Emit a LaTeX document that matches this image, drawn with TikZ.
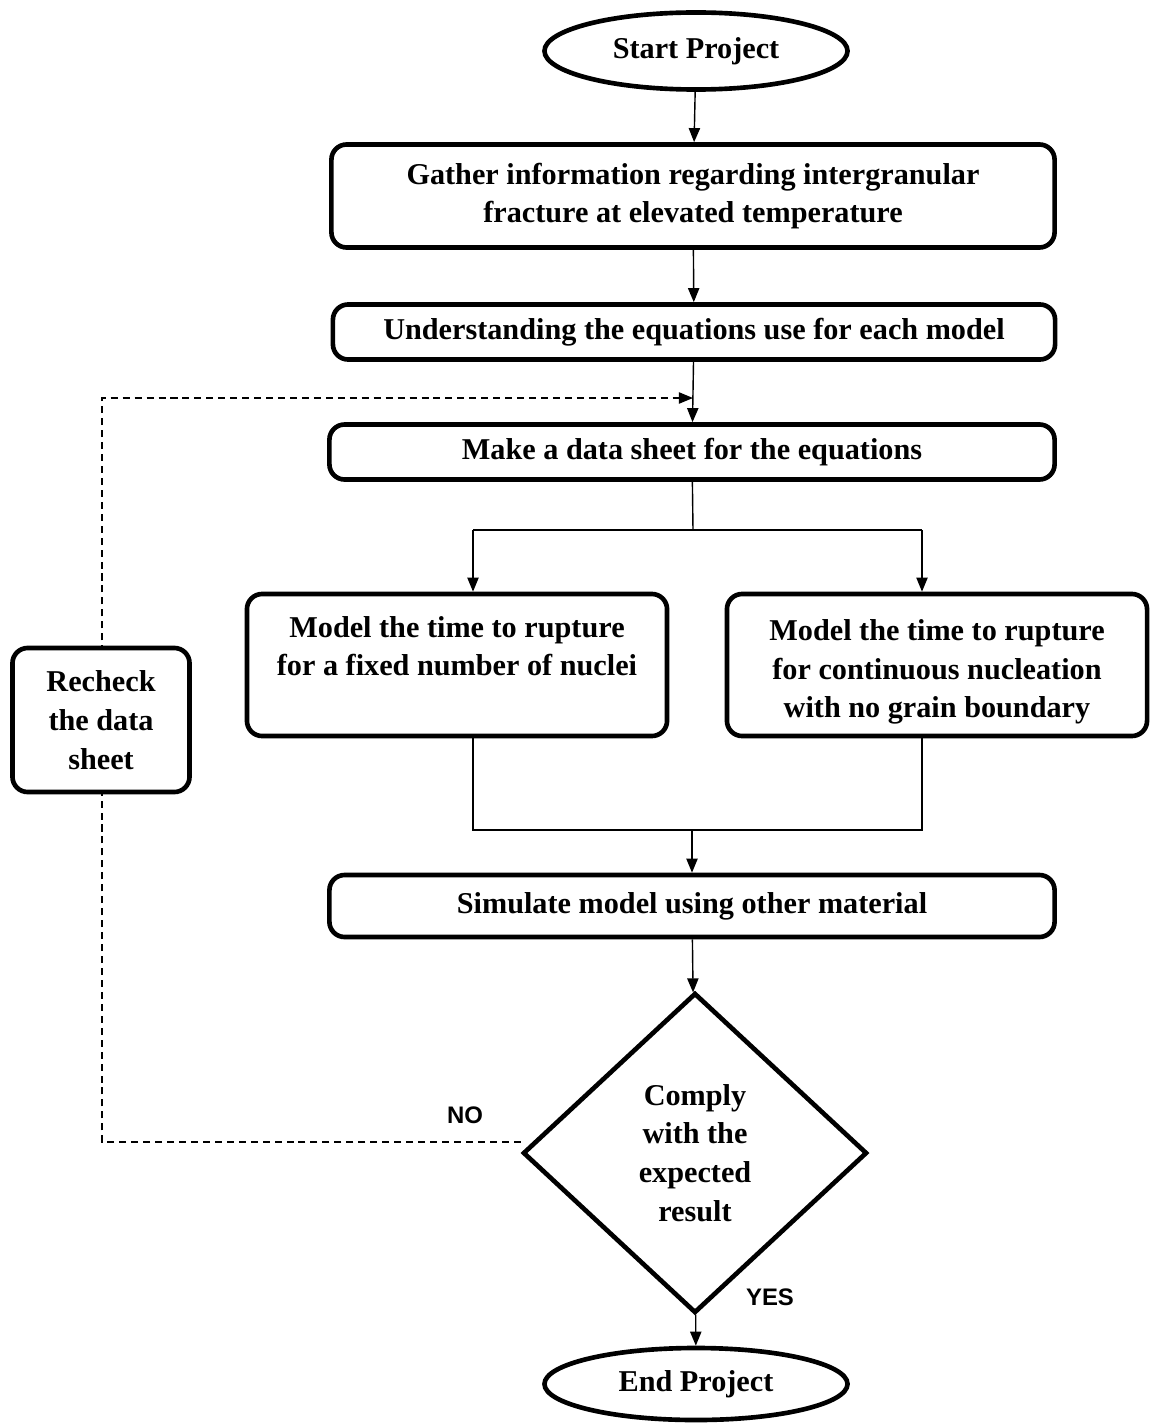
\documentclass[tikz,border=0pt]{standalone}
\usepackage{fontspec}
\setmainfont{Liberation Serif}
\setsansfont{Liberation Sans}
\usepackage{tikz}
\usetikzlibrary{shapes.geometric,arrows.meta}

\tikzset{
  box/.style={draw, line width=3.3pt, rounded corners=0.38cm, fill=white,
    align=center, font=\fontsize{21.5}{27.5}\selectfont\bfseries, inner sep=2pt},
  term/.style={draw, ellipse, line width=3.3pt, inner sep=0pt,
    font=\fontsize{21.5}{27.5}\selectfont\bfseries},
  ans/.style={font=\sffamily\bfseries\fontsize{17}{20}\selectfont},
  loopline/.style={dash pattern=on 5pt off 3.5pt}
}

\begin{document}
\begin{tikzpicture}[x=0.025cm, y=-0.025cm, line width=1pt,
    >={Triangle[length=10pt,width=8pt]}]
  \useasboundingbox (0,0) rectangle (1161,1425);

  \node[term, minimum width=7.575cm, minimum height=1.925cm] (start) at (696,51) {Start Project};
  \node[box, minimum width=18.075cm, minimum height=2.575cm] (gather) at (693,196)
    {Gather information regarding intergranular\\fracture at elevated temperature};
  \node[box, minimum width=18.05cm, minimum height=1.375cm] (under) at (694,332)
    {Understanding the equations use for each model};
  \node[box, minimum width=18.125cm, minimum height=1.375cm] (make) at (692,452)
    {Make a data sheet for the equations};

  \node[box, minimum width=10.5cm, minimum height=3.55cm, text depth=0.95cm] (mfix) at (457,665)
    {Model the time to rupture\\for a fixed number of nuclei};
  \node[box, minimum width=10.5cm, minimum height=3.55cm, text height=2.81cm] (mcont) at (937,665)
    {Model the time to rupture\\for continuous nucleation\\with no grain boundary};

  \node[box, minimum width=18.125cm, minimum height=1.55cm] (sim) at (692,906)
    {Simulate model using other material};
  \node[box, diamond, rounded corners=0pt, minimum width=8.6cm, minimum height=8cm,
    inner sep=0pt] (comply) at (695,1153) {Comply\\with the\\expected\\result};
  \node[term, minimum width=7.575cm, minimum height=1.8cm] (end) at (696,1384) {End Project};

  \node[ans] (no) at (465,1115) {NO};
  \node[ans] (yes) at (770,1297) {YES};

  \coordinate (split) at (693,530);
  \coordinate (sl) at (473,530);
  \coordinate (sr) at (922,530);
  \coordinate (jl) at (473,830);
  \coordinate (jr) at (922,830);
  \coordinate (join) at (692,830);
  \coordinate (back) at (102,398);
  \coordinate (backend) at (693,398);

  \draw[->] (start) -- (gather);
  \draw[->] (gather) -- (under);
  \draw[->] (under) -- (make);
  \draw (make) -- (split);
  \draw (sl) -- (sr);
  \draw[->] (sl) -- (sl |- mfix.north);
  \draw[->] (sr) -- (sr |- mcont.north);
  \draw (jl |- mfix.south) -- (jl) -- (jr) -- (jr |- mcont.south);
  \draw[->] (join) -- (join |- sim.north);
  \draw[->] (sim) -- (comply);
  \draw[->] (comply) -- (end);

  % loop back when the result does not comply
  \draw[loopline, ->] ([yshift=0.275cm]comply.west) -| (back) -- (backend);

  \node[box, minimum width=4.425cm, minimum height=3.6cm] (recheck) at (101,720)
    {Recheck\\the data\\sheet};

\end{tikzpicture}
\end{document}
